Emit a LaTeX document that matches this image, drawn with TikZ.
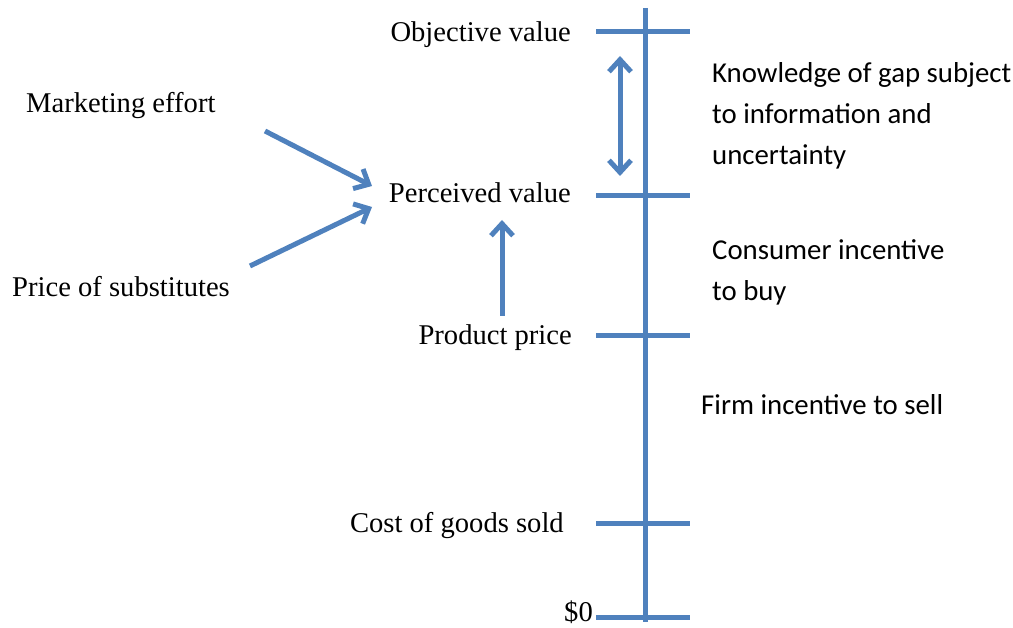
\documentclass[tikz,border=0pt]{standalone}
\usepackage{fontspec}
\setmainfont{Liberation Serif}
\newfontfamily\calib{Carlito}
\usetikzlibrary{arrows.meta}
\definecolor{axblue}{RGB}{79,129,189}
\begin{document}
\begin{tikzpicture}[x=1pt,y=-1pt,
  ax/.style={draw=axblue,line width=5pt},
  arr/.style={draw=axblue,line width=5pt,-{Straight Barb[length=12pt,width=22pt,line width=5pt]}},
  darr/.style={draw=axblue,line width=5pt,{Straight Barb[length=12pt,width=22pt,line width=5pt]}-{Straight Barb[length=12pt,width=22pt,line width=5pt]}},
  lab/.style={inner sep=0pt,font=\fontsize{28.6}{33}\selectfont},
  rlab/.style={inner sep=0pt,align=left,font=\calib\fontsize{28.8}{41}\selectfont}]
\useasboundingbox (0,0) rectangle (1013,628);
% axis
\coordinate (top) at (645,8);
\coordinate (bot) at (645,622);
\draw[ax] (top) -- (bot);
\coordinate (t1a) at (596,32);  \coordinate (t1b) at (690,32);
\coordinate (t2a) at (596,196); \coordinate (t2b) at (690,196);
\coordinate (t3a) at (596,336); \coordinate (t3b) at (690,336);
\coordinate (t4a) at (596,523); \coordinate (t4b) at (690,523);
\coordinate (t5a) at (596,617); \coordinate (t5b) at (690,617);
\draw[ax] (t1a) -- (t1b);
\draw[ax] (t2a) -- (t2b);
\draw[ax] (t3a) -- (t3b);
\draw[ax] (t4a) -- (t4b);
\draw[ax] (t5a) -- (t5b);
% labels
\node[lab,anchor=mid east] (obj) at (571,39) {Objective value};
\node[lab,anchor=mid west] (mkt) at (26,110) {Marketing effort};
\node[lab,anchor=mid east] (perc) at (571,200) {Perceived value};
\node[lab,anchor=mid west] (subs) at (12,294) {Price of substitutes};
\node[lab,anchor=mid east] (prod) at (572,342) {Product price};
\node[lab,anchor=mid east] (cogs) at (564,530) {Cost of goods sold};
\node[lab,anchor=mid east] (zero) at (593,619) {\$0};
\node[rlab,anchor=north west] (know) at (712,62) {Knowledge of gap subject\\to information and\\uncertainty};
\node[rlab,anchor=north west] (cons) at (712,239) {Consumer incentive\\to buy};
\node[rlab,anchor=mid west] (firm) at (701,412) {Firm incentive to sell};
% arrows
\coordinate (gapA) at (620,56);
\coordinate (gapB) at (620,176);
\draw[darr] (gapA) -- (gapB);
\coordinate (mktS) at (265,131);
\coordinate (mktE) at (372,186);
\draw[arr] (mktS) -- (mktE);
\coordinate (subS) at (250,266);
\coordinate (subE) at (372,207);
\draw[arr] (subS) -- (subE);
\coordinate (prodS) at (502,316);
\coordinate (prodE) at (502,220);
\draw[arr] (prodS) -- (prodE);
\end{tikzpicture}
\end{document}
